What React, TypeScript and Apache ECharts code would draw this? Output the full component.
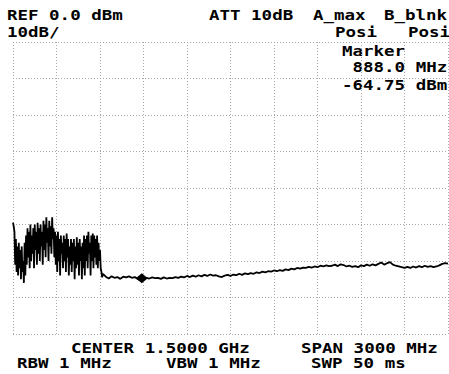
import React, { useEffect, useRef } from "react";
import * as echarts from "echarts";

// Frequency axis (MHz) and amplitude axis (dBm)
const SPAN_MIN_MHZ = 0;
const SPAN_MAX_MHZ = 3000;
const FREQ_DIV_MHZ = 300;
const REF_DBM = 0;
const BOTTOM_DBM = -80;
const DB_PER_DIV = 10;

// Dense, noisy portion of the trace: 0 .. 620 MHz in 5 MHz steps
const NOISY_START_MHZ = 0;
const NOISY_STEP_MHZ = 5;
const noisyDbm = [
  -49.5, -50.5, -52, -61, -54, -63, -56, -64, -55, -62,
  -57, -65, -56, -63, -60, -66, -55, -64, -53, -61,
  -51, -59, -52, -62, -50, -60, -53, -58, -51, -62,
  -50, -57, -52, -61, -49.5, -58, -51, -60, -50, -56,
  -52, -61, -49, -57, -50, -59, -48, -55, -51, -60,
  -49, -56, -50.5, -58, -48, -54, -51, -59, -52, -61,
  -53, -63, -52, -60, -54, -64, -53, -58, -55, -62,
  -53, -60, -54, -63, -52.5, -59, -54, -64, -56, -61,
  -54, -63, -55, -60, -54, -65, -56, -62, -53.5, -61,
  -55, -64, -54, -60, -56, -65, -55, -62, -53, -64,
  -54, -60, -53, -62, -52, -58, -55, -64, -53, -60,
  -52.5, -62, -53, -59, -54, -61, -53, -62, -55, -60,
  -57, -62, -63, -64.5, -63.5,
];

// Noise floor: 640 .. 3000 MHz in 20 MHz steps
const FLOOR_START_MHZ = 640;
const FLOOR_STEP_MHZ = 20;
const floorDbm = [
  -64.3, -64.8, -64.2, -64.6, -64.4, -64.9, -64.3, -64.5, -64.2, -64.6,
  -64.4, -64.9, -65.3, -65.0, -64.6, -64.8, -64.5, -64.7, -64.6, -64.9,
  -64.5, -64.8, -64.6, -64.7, -64.4, -64.6, -64.3, -64.5, -64.1, -64.4,
  -64.0, -64.3, -63.9, -64.2, -63.8, -64.1, -63.7, -64.0, -63.9, -64.2,
  -64.4, -64.0, -63.8, -64.1, -63.7, -63.9, -63.5, -63.8, -63.4, -63.6,
  -63.3, -63.5, -63.1, -63.3, -62.9, -63.1, -62.8, -62.9, -62.6, -62.8,
  -62.5, -62.7, -62.3, -62.5, -62.1, -62.3, -61.9, -62.1, -61.8, -61.9,
  -61.6, -61.8, -61.5, -61.7, -61.3, -61.5, -61.2, -61.4, -61.3, -61.0,
  -61.4, -60.9, -61.1, -61.5, -61.3, -61.6, -61.4, -61.7, -61.2, -61.4,
  -61.0, -61.3, -60.9, -61.2, -60.8, -60.4, -61.0, -60.6, -60.3, -61.0,
  -61.3, -61.5, -61.7, -61.9, -61.6, -61.9, -61.5, -61.8, -61.4, -61.7,
  -61.3, -61.6, -61.4, -61.7, -61.5, -61.2, -60.8, -60.6, -60.7,
];

// Marker
const MARKER_MHZ = 888.0;
const MARKER_DBM = -64.75;

// Annotation texts
const headerLeft = ["REF 0.0 dBm", "10dB/"];
const headerRight = ["ATT 10dB", "A_max", "B_blnk", "Posi", "Posi"];
const markerLines = ["Marker", " 888.0 MHz", "-64.75 dBm"];
const footerLines = ["CENTER 1.5000 GHz", "SPAN 3000 MHz", "RBW 1 MHz", "VBW 1 MHz", "SWP 50 ms"];

const FONT = '"DejaVu Sans Mono", monospace';

function txt(text: string, x: number, y: number) {
  return {
    type: "text",
    x,
    y,
    scaleX: 1.25,
    scaleY: 1,
    style: {
      text,
      fill: "#000",
      fontFamily: FONT,
      fontWeight: "bold",
      fontSize: 14,
      align: "left",
      verticalAlign: "middle",
    },
    silent: true,
  };
}

export default function App() {
  const ref = useRef<HTMLDivElement>(null);

  useEffect(() => {
    if (!ref.current) return;
    const chart = echarts.init(ref.current, null, { renderer: "svg" });

    const trace: [number, number][] = [
      ...noisyDbm.map((v, i) => [NOISY_START_MHZ + i * NOISY_STEP_MHZ, v] as [number, number]),
      ...floorDbm.map((v, i) => [FLOOR_START_MHZ + i * FLOOR_STEP_MHZ, v] as [number, number]),
    ];

    const gridLine = {
      show: true,
      lineStyle: { color: "#a8a8a8", type: [1, 2], width: 1 },
    };

    chart.setOption({
      animation: false,
      backgroundColor: "#fff",
      grid: { left: 13, right: 1, top: 42, bottom: 40 },
      xAxis: {
        type: "value",
        min: SPAN_MIN_MHZ,
        max: SPAN_MAX_MHZ,
        interval: FREQ_DIV_MHZ,
        axisLine: { show: false },
        axisTick: { show: false },
        axisLabel: { show: false },
        splitLine: gridLine,
      },
      yAxis: {
        type: "value",
        min: BOTTOM_DBM,
        max: REF_DBM,
        interval: DB_PER_DIV,
        axisLine: { show: false },
        axisTick: { show: false },
        axisLabel: { show: false },
        splitLine: gridLine,
      },
      series: [
        {
          type: "line",
          data: trace,
          showSymbol: false,
          symbol: "none",
          lineStyle: { color: "#000", width: 1.8 },
          markPoint: {
            symbol: "diamond",
            symbolSize: [12, 10],
            label: { show: false },
            itemStyle: { color: "#000" },
            data: [{ coord: [MARKER_MHZ, MARKER_DBM] }],
          },
        },
      ],
      graphic: [
        txt(headerLeft[0], 7, 15),
        txt(headerLeft[1], 7, 32),
        txt(headerRight[0], 209, 15),
        txt(headerRight[1], 313, 15),
        txt(headerRight[2], 384, 15),
        txt(headerRight[3], 335, 32),
        txt(headerRight[4], 408, 32),
        txt(markerLines[0], 342, 51),
        txt(markerLines[1], 342, 67),
        txt(markerLines[2], 342, 85),
        txt(footerLines[0], 71, 348),
        txt(footerLines[1], 301, 348),
        txt(footerLines[2], 17, 363),
        txt(footerLines[3], 166, 363),
        txt(footerLines[4], 311, 363),
      ],
    });

    return () => chart.dispose();
  }, []);

  return (
    <div
      ref={ref}
      style={{ position: "fixed", left: 0, top: 0, width: 449, height: 374 }}
    />
  );
}
